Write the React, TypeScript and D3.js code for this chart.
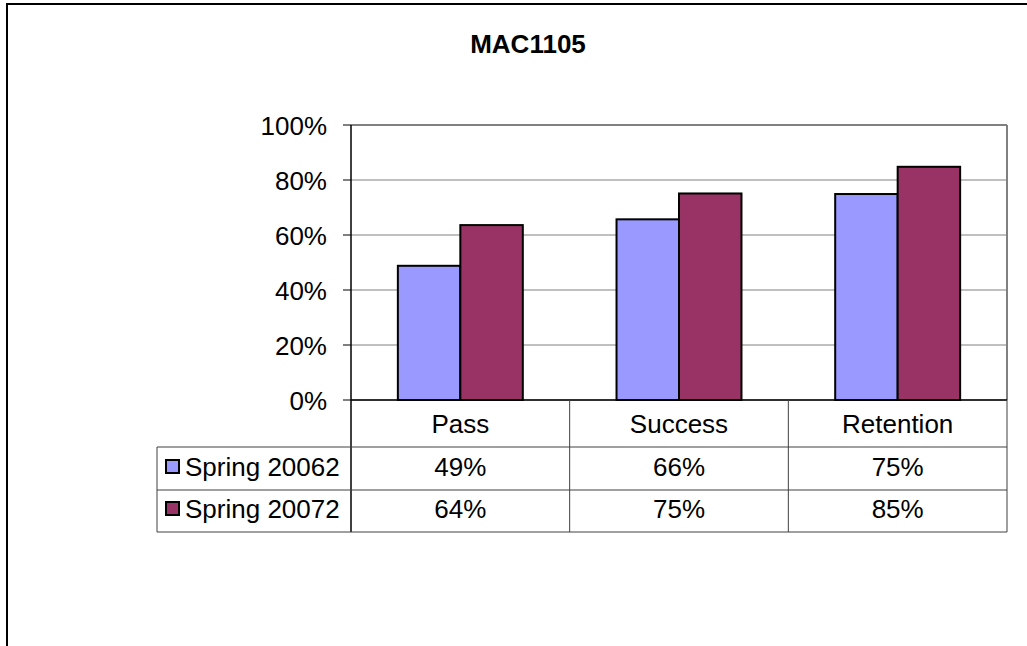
import React from "react";
import * as d3 from "d3";

const title = "MAC1105";
const categories = ["Pass", "Success", "Retention"];
const seriesNames = ["Spring 20062", "Spring 20072"];
const spring2006 = [0.488, 0.657, 0.749];
const spring2007 = [0.636, 0.751, 0.848];
const yTicks = [0, 0.2, 0.4, 0.6, 0.8, 1.0];
const colors = ["#9999FF", "#993366"];

const W = 1027;
const H = 646;
const plotLeft = 351;
const plotRight = 1007;
const plotTop = 125;
const plotBottom = 400;
const tableLeft = 157;
const rowYs = [400, 447, 490, 532];
const FONT = "Arial, 'Liberation Sans', sans-serif";

export default function App() {
  const series = [spring2006, spring2007];
  const x = d3.scaleBand<string>().domain(categories).range([plotLeft, plotRight]).paddingInner(0).paddingOuter(0);
  const inner = d3
    .scaleBand<number>()
    .domain([0, 1])
    .range([0, x.bandwidth()])
    .paddingInner(0)
    .paddingOuter(0.75);
  const y = d3.scaleLinear().domain([0, 1]).range([plotBottom, plotTop]);
  const fmt = d3.format(".0%");

  return (
    <svg
      width={W}
      height={H}
      style={{ position: "absolute", left: 0, top: 0, background: "#fff" }}
      fontFamily={FONT}
    >
      <rect x={0} y={0} width={W} height={H} fill="#fff" />
      {/* outer border */}
      <rect x={7} y={4} width={W + 40} height={H + 40} fill="none" stroke="#000" strokeWidth={2} />
      <text x={528} y={53} textAnchor="middle" fontSize={26} fontWeight="bold">
        {title}
      </text>

      {/* gridlines */}
      {yTicks.map((t) => (
        <line
          key={"g" + t}
          x1={plotLeft}
          x2={plotRight}
          y1={y(t)}
          y2={y(t)}
          stroke="#808080"
          strokeWidth={t === 1 ? 2 : 1}
        />
      ))}
      <line x1={plotRight} x2={plotRight} y1={plotTop} y2={plotBottom} stroke="#808080" strokeWidth={2} />

      {/* bars */}
      {series.map((vals, si) =>
        vals.map((v, ci) => (
          <rect
            key={`b${si}-${ci}`}
            x={(x(categories[ci]) as number) + (inner(si) as number)}
            y={y(v)}
            width={inner.bandwidth()}
            height={plotBottom - y(v)}
            fill={colors[si]}
            stroke="#000"
            strokeWidth={2}
          />
        ))
      )}

      {/* y axis */}
      <line x1={plotLeft} x2={plotLeft} y1={plotTop} y2={rowYs[3]} stroke="#000" strokeWidth={1.5} />
      {yTicks.map((t) => (
        <g key={"t" + t}>
          <line x1={343} x2={plotLeft} y1={y(t)} y2={y(t)} stroke="#000" strokeWidth={1} />
          <text x={327} y={y(t) + 10} textAnchor="end" fontSize={26}>
            {fmt(t)}
          </text>
        </g>
      ))}

      {/* data table */}
      <line x1={plotLeft} x2={plotRight} y1={rowYs[0]} y2={rowYs[0]} stroke="#000" strokeWidth={1.5} />
      {[1, 2, 3].map((r) => (
        <line key={"r" + r} x1={tableLeft} x2={plotRight} y1={rowYs[r]} y2={rowYs[r]} stroke="#404040" strokeWidth={1} />
      ))}
      <line x1={tableLeft} x2={tableLeft} y1={rowYs[1]} y2={rowYs[3]} stroke="#404040" strokeWidth={1} />
      {categories.slice(1).map((c) => (
        <line
          key={"v" + c}
          x1={x(c) as number}
          x2={x(c) as number}
          y1={rowYs[0]}
          y2={rowYs[3]}
          stroke="#404040"
          strokeWidth={1}
        />
      ))}
      <line x1={plotRight} x2={plotRight} y1={rowYs[0]} y2={rowYs[3]} stroke="#404040" strokeWidth={1} />

      {categories.map((c) => (
        <text
          key={"c" + c}
          x={(x(c) as number) + x.bandwidth() / 2}
          y={433}
          textAnchor="middle"
          fontSize={26}
        >
          {c}
        </text>
      ))}

      {series.map((vals, si) => {
        const base = si === 0 ? 476 : 518;
        return (
          <g key={"row" + si}>
            <rect
              x={166}
              y={base - 16}
              width={13}
              height={13}
              fill={colors[si]}
              stroke="#000"
              strokeWidth={2}
            />
            <text x={185} y={base} fontSize={26}>
              {seriesNames[si]}
            </text>
            {vals.map((v, ci) => (
              <text
                key={"val" + ci}
                x={(x(categories[ci]) as number) + x.bandwidth() / 2}
                y={base}
                textAnchor="middle"
                fontSize={26}
              >
                {fmt(v)}
              </text>
            ))}
          </g>
        );
      })}
    </svg>
  );
}
